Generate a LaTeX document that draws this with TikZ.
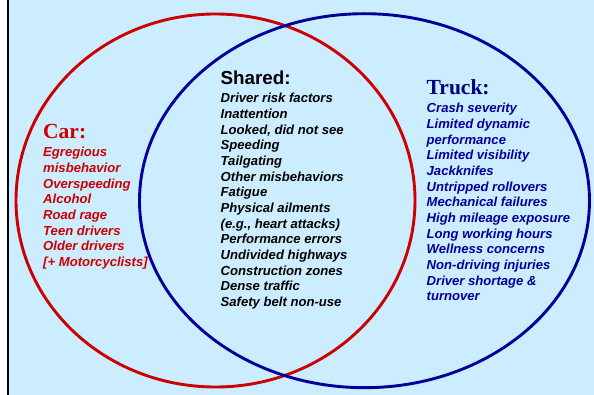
\documentclass[tikz,border=0pt]{standalone}
\usepackage{fontspec}
\setmainfont{Liberation Sans}
\newfontfamily\titleserif{Liberation Serif}
\definecolor{bgblue}{HTML}{CCECFF}
\definecolor{carred}{HTML}{CC0000}
\definecolor{trucknavy}{HTML}{000099}
\definecolor{trucktitle}{HTML}{000080}
\begin{document}
\begin{tikzpicture}[x=1pt,y=-1pt,
  itemtext/.style={anchor=base west, inner sep=0pt,
    font=\fontsize{13.1}{15}\selectfont\bfseries\itshape},
  sertitle/.style={anchor=base west, inner sep=0pt,
    font=\fontsize{21.5}{24}\selectfont\titleserif\bfseries},
  sanstitle/.style={anchor=base west, inner sep=0pt,
    font=\fontsize{18.8}{22}\selectfont\bfseries},
  ring/.style={line width=2.9pt}]
\useasboundingbox (0,0) rectangle (594,395);
\fill[white] (0,0) rectangle (594,395);
\fill[bgblue] (7,0) rectangle (594,395);
\draw[black, line width=2pt] (7.6,0) -- (7.6,395);
% circles
\draw[ring, carred] (215.5,200.5) ellipse [x radius=199.5pt, y radius=186.5pt];
\draw[ring, trucknavy] (364.5,200.7) ellipse [x radius=225pt, y radius=187pt];
% Car
\node[sertitle, text=carred] (cartitle) at (43,138.3) {Car:};
\foreach \t [count=\i] in {Egregious, misbehavior, Overspeeding, Alcohol,
  Road rage, Teen drivers, Older drivers, {[+ Motorcyclists]}}
  \node[itemtext, text=carred] (car\i) at (43,156.7+15.71*\i-15.71) {\t};
% Shared
\node[sanstitle, text=black] (sharedtitle) at (220.5,85) {Shared:};
\foreach \t [count=\i] in {Driver risk factors, Inattention, {Looked, did not see},
  Speeding, Tailgating, Other misbehaviors, Fatigue, Physical ailments,
  {(e.g., heart attacks)}, Performance errors, Undivided highways,
  Construction zones, Dense traffic, Safety belt non-use}
  \node[itemtext, text=black] (sh\i) at (220.5,102.7+15.69*\i-15.69) {\t};
% Truck
\node[sertitle, text=trucktitle] (trucktitle) at (426.5,95) {Truck:};
\foreach \t [count=\i] in {Crash severity, Limited dynamic, performance,
  Limited visibility, Jackknifes, Untripped rollovers, Mechanical failures,
  High mileage exposure, Long working hours, Wellness concerns,
  Non-driving injuries, {Driver shortage \&}, turnover}
  \node[itemtext, text=trucknavy] (tr\i) at (426.5,112.7+15.69*\i-15.69) {\t};
\end{tikzpicture}
\end{document}
